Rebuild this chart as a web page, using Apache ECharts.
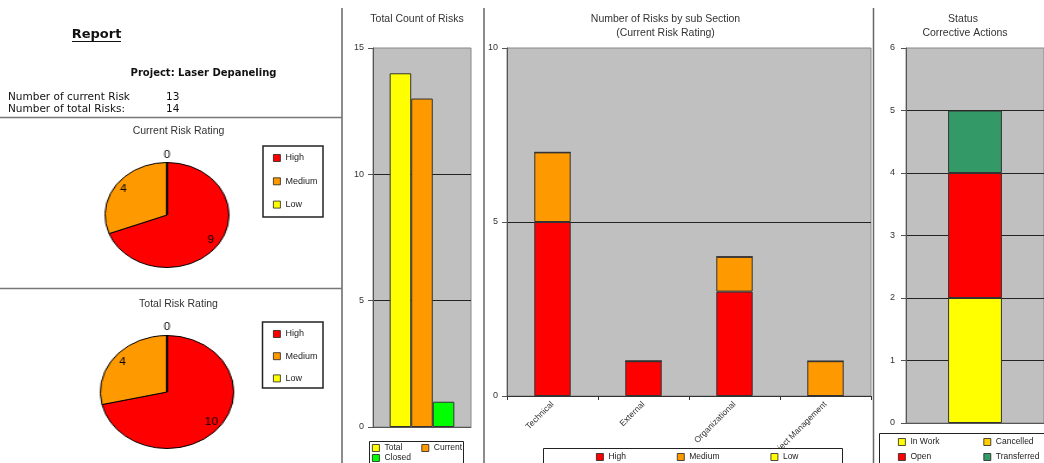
<!DOCTYPE html>
<html>
<head>
<meta charset="utf-8">
<script src="https://cdn.jsdelivr.net/npm/echarts@6/dist/echarts.min.js"></script>
<style>
  html, body { margin: 0; padding: 0; background: #fff; overflow: hidden; }
  #main { position: absolute; left: 0; top: 0; width: 1044px; height: 463px; }
  .pie { position: absolute; width: 150px; height: 150px; transform: scaleX(1.18); transform-origin: 50% 50%; }
</style>
</head>
<body>
<div id="main"></div>
<div id="pie1" class="pie" style="left:92px; top:139.5px"></div>
<div id="pie2" class="pie" style="left:92px; top:316.5px"></div>
<script>
// ---- data ----
const projectName = 'Laser Depaneling';
const currentRiskCount = 13;
const totalRiskCount = 14;

const ratingNames = ['High', 'Medium', 'Low'];
const currentRating = [9, 4, 0];
const totalRating = [10, 4, 0];

const countNames = ['Total', 'Current', 'Closed'];
const countValues = [14, 13, 1];

const sections = ['Technical', 'External', 'Organizational', 'Project Management'];
const highBySection = [5, 1, 3, 0];
const mediumBySection = [2, 0, 1, 1];
const lowBySection = [0, 0, 0, 0];

const statusNames = ['In Work', 'Cancelled', 'Open', 'Transferred'];
const statusValues = [2, 0, 2, 1];

// ---- styles ----
const ratingColors = ['#ff0000', '#ff9900', '#ffff00'];
const countColors = ['#ffff00', '#ff9900', '#00ff00'];
const statusColors = ['#ffff00', '#ffcc00', '#ff0000', '#339966'];
const FONT = '"Liberation Sans", Arial, sans-serif';
const CELL_FONT = '"DejaVu Sans", sans-serif';
const barBorder = { borderColor: '#333', borderWidth: 1 };

function valueAxis(gridIndex, max, interval, margin) {
  return {
    type: 'value', gridIndex, min: 0, max, interval,
    axisLine: { show: true, lineStyle: { color: '#555' } },
    axisTick: { show: true, length: 5, lineStyle: { color: '#555' } },
    axisLabel: { fontSize: 9, color: '#333', fontFamily: FONT, margin },
    splitLine: { show: true, showMaxLine: false, lineStyle: { color: '#222', width: 1 } }
  };
}

function plainCategory(gridIndex) {
  return {
    type: 'category', gridIndex, data: [''],
    axisLine: { show: true, lineStyle: { color: '#555' } },
    axisTick: { show: false }, axisLabel: { show: false }
  };
}

function gridBox(left, top, width, height) {
  return {
    left, top, width, height, show: true, outerBoundsMode: 'none',
    backgroundColor: '#c0c0c0', borderColor: '#888', borderWidth: 1
  };
}

const legendBase = {
  selectedMode: false, icon: 'rect', itemWidth: 7, itemHeight: 7, padding: 0,
  orient: 'horizontal',
  itemStyle: { borderColor: '#222', borderWidth: 0.8 }
};
function legendText(extra) {
  return Object.assign({ fontSize: 8.5, color: '#222', fontFamily: FONT, lineHeight: 10 }, extra);
}

function text(x, y, str, opts) {
  return {
    type: 'text', x, y, silent: true,
    style: Object.assign({
      text: str, fontSize: 10.5, fontFamily: FONT, fill: '#333',
      align: 'center', verticalAlign: 'middle'
    }, opts)
  };
}
function line(x1, y1, x2, y2, color, w) {
  return { type: 'line', silent: true, shape: { x1, y1, x2, y2 }, style: { stroke: color, lineWidth: w } };
}
function box(x, y, w, h, lw) {
  return { type: 'rect', z: 3, silent: true, shape: { x, y, width: w, height: h },
    style: { fill: '#fff', stroke: '#222', lineWidth: lw } };
}

const main = echarts.init(document.getElementById('main'));
main.setOption({
  animation: false,
  grid: [
    gridBox(373, 48, 98, 379),
    gridBox(507, 48, 364, 348),
    gridBox(906, 48, 138, 375)
  ],
  xAxis: [
    plainCategory(0),
    {
      type: 'category', gridIndex: 1, data: sections,
      axisLine: { show: true, lineStyle: { color: '#333' } },
      axisTick: { show: true, length: 4, alignWithLabel: false, lineStyle: { color: '#333' } },
      axisLabel: { interval: 0, rotate: 45, fontSize: 8.5, color: '#333', fontFamily: FONT, margin: 7 }
    },
    plainCategory(2)
  ],
  yAxis: [
    valueAxis(0, 15, 5, 9),
    valueAxis(1, 10, 5, 9),
    valueAxis(2, 6, 1, 11)
  ],
  legend: [
    Object.assign({}, legendBase, {
      left: 372, top: 443, width: 120, itemGap: 0,
      data: [countNames[0], countNames[1], '', countNames[2]],
      textStyle: legendText({ width: 37 })
    }),
    Object.assign({}, legendBase, {
      left: 596, top: 452, itemGap: 51, data: ratingNames,
      textStyle: legendText({})
    }),
    Object.assign({}, legendBase, {
      left: 898, top: 434.5, width: 200, itemGap: 0,
      data: [statusNames[0], statusNames[1], '', statusNames[2], statusNames[3]],
      textStyle: legendText({ width: 73, lineHeight: 15 })
    }),
    Object.assign({}, legendBase, {
      orient: 'vertical', left: 273, top: 153, itemGap: 13.3, data: ratingNames,
      textStyle: legendText({ fontSize: 9 })
    }),
    Object.assign({}, legendBase, {
      orient: 'vertical', left: 273, top: 329, itemGap: 12.2, data: ratingNames,
      textStyle: legendText({ fontSize: 9 })
    })
  ],
  series: [
    ...countNames.map((name, i) => ({
      type: 'bar', name, xAxisIndex: 0, yAxisIndex: 0,
      data: [countValues[i]],
      barGap: '0%', barCategoryGap: '34%',
      itemStyle: Object.assign({ color: countColors[i] }, barBorder)
    })),
    ...[highBySection, mediumBySection, lowBySection].map((vals, i) => ({
      type: 'bar', name: ratingNames[i], xAxisIndex: 1, yAxisIndex: 1, stack: 'section',
      data: vals, barCategoryGap: '60%',
      itemStyle: Object.assign({ color: ratingColors[i] }, barBorder)
    })),
    ...statusNames.map((name, i) => ({
      type: 'bar', name, xAxisIndex: 2, yAxisIndex: 2, stack: 'status',
      data: [statusValues[i]], barCategoryGap: '61%',
      itemStyle: Object.assign({ color: statusColors[i] }, barBorder)
    }))
  ],
  graphic: [
    // panel separators
    line(342, 8, 342, 463, '#666', 1.5),
    line(484, 8, 484, 463, '#666', 1.5),
    line(873.5, 8, 873.5, 463, '#666', 1.5),
    line(0, 117.5, 342, 117.5, '#777', 1.5),
    line(0, 288.5, 342, 288.5, '#777', 1.5),
    // report header
    text(96.5, 35, 'Report', { fontSize: 13, fontWeight: 'bold', fontFamily: CELL_FONT, fill: '#111' }),
    line(72, 41.5, 121, 41.5, '#111', 1.2),
    text(203.5, 73, 'Project: ' + projectName, { fontSize: 10, fontWeight: 'bold', fontFamily: CELL_FONT, fill: '#111' }),
    text(8, 97, 'Number of current Risk', { fontFamily: CELL_FONT, fill: '#111', align: 'left' }),
    text(166, 97, String(currentRiskCount), { fontFamily: CELL_FONT, fill: '#111', align: 'left' }),
    text(8, 109, 'Number of total Risks:', { fontFamily: CELL_FONT, fill: '#111', align: 'left' }),
    text(166, 109, String(totalRiskCount), { fontFamily: CELL_FONT, fill: '#111', align: 'left' }),
    // chart titles
    text(178.5, 131.5, 'Current Risk Rating'),
    text(178.5, 304, 'Total Risk Rating'),
    text(417, 19, 'Total Count of Risks'),
    text(665.5, 19, 'Number of Risks by sub Section'),
    text(665.5, 33, '(Current Risk Rating)'),
    text(963, 19, 'Status'),
    text(965, 33, 'Corrective Actions'),
    // legend boxes
    box(369.5, 441.5, 94, 30, 1),
    box(543.5, 448.5, 299, 25, 1),
    box(879.5, 433.5, 170, 40, 1),
    box(263, 146, 60, 71, 1.5),
    box(262.5, 322, 60.5, 66, 1.5)
  ]
});

// pies are drawn in their own containers, stretched horizontally into ellipses
function pieOption(values, R) {
  const items = ratingNames.map((name, i) => ({ name, value: values[i] }));
  const labelStyle = { position: 'inside', formatter: '{c}', fontSize: 10, color: '#000',
    fontFamily: FONT, textBorderWidth: 0 };
  const ring = (inner, outer, showFn) => ({
    type: 'pie', radius: [inner, outer], center: ['50%', '50%'], silent: true,
    avoidLabelOverlap: false, itemStyle: { color: 'transparent', borderWidth: 0 },
    labelLine: { show: false }, label: labelStyle,
    data: items.map(d => Object.assign({}, d, { label: { show: showFn(d) } }))
  });
  return {
    animation: false,
    series: [
      {
        type: 'pie', radius: [0, R], center: ['50%', '50%'], silent: true,
        label: { show: false }, labelLine: { show: false },
        itemStyle: { borderColor: '#000', borderWidth: 1 },
        data: items.map((d, i) => Object.assign({}, d, { itemStyle: { color: ratingColors[i] } }))
      },
      ring(R * 0.6, R, d => d.value > 0),
      ring(R, R * 1.18, d => d.value === 0)
    ]
  };
}

echarts.init(document.getElementById('pie1')).setOption(pieOption(currentRating, 52.5));
echarts.init(document.getElementById('pie2')).setOption(pieOption(totalRating, 56.5));
</script>
</body>
</html>
